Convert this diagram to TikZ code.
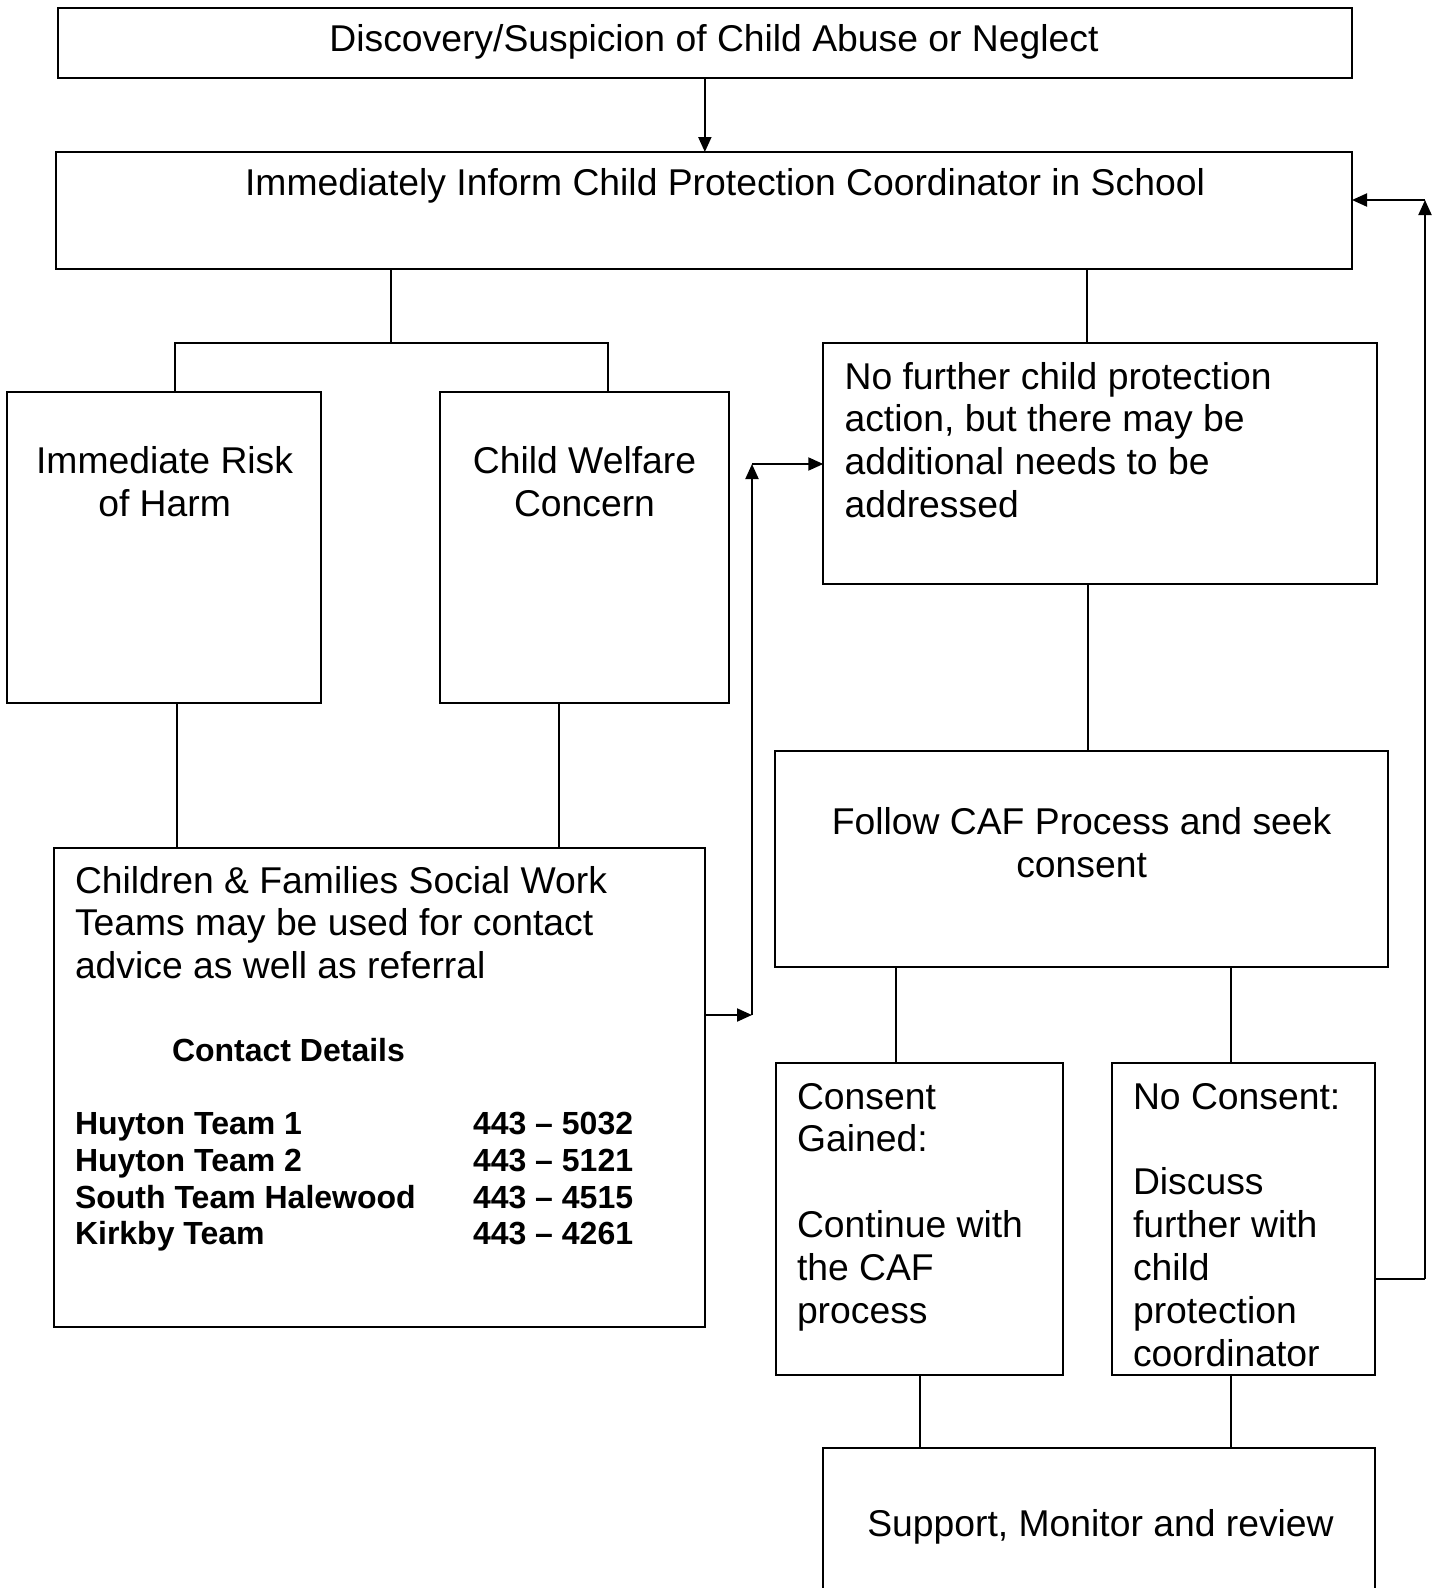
\documentclass[tikz,border=0pt]{standalone}
\usepackage{fontspec}
\setmainfont{Liberation Sans}
\usetikzlibrary{arrows.meta,calc}
\tikzset{
  box/.style={draw=black, line width=2pt, inner sep=0pt, outer sep=0pt, rectangle},
  conn/.style={draw=black, line width=2pt},
  arr/.style={conn, -{Triangle[length=15pt,width=13pt]}},
  txt/.style={inner sep=0pt, outer sep=0pt, font={\fontsize{37.3}{42.9}\selectfont}},
  btxt/.style={inner sep=0pt, outer sep=0pt, align=left, anchor=base west, font={\fontsize{32}{36.8}\selectfont\bfseries}}
}
\begin{document}
\begin{tikzpicture}[x=1pt,y=-1pt]
\path[use as bounding box, clip] (0,0) rectangle (1441,1588);
\fill[white] (0,0) rectangle (1441,1588);

% boxes
\node[box, minimum width=1294.3pt, minimum height=69.4pt] (b1) at (704.85,42.8) {};
\node[box, minimum width=1296.3pt, minimum height=117.4pt] (b2) at (703.85,210.7) {};
\node[box, minimum width=314pt, minimum height=311pt] (b3) at (164,547.5) {};
\node[box, minimum width=289.5pt, minimum height=311pt] (b4) at (584.25,547.5) {};
\node[box, minimum width=554pt, minimum height=241pt] (b5) at (1100.3,463.8) {};
\node[box, minimum width=613.7pt, minimum height=215.6pt] (b6) at (1081.55,859.2) {};
\node[box, minimum width=651.1pt, minimum height=479pt] (b7) at (379.25,1087.1) {};
\node[box, minimum width=287.6pt, minimum height=311.9pt] (b8) at (919.5,1219.25) {};
\node[box, minimum width=263.2pt, minimum height=311.9pt] (b9) at (1243.6,1219.25) {};
\node[box, minimum width=551.9pt, minimum height=160pt] (b10) at (1099.25,1528) {};

% texts (for multi-line nodes the base anchor is the last line's baseline)
\node[txt, anchor=base] (t1) at (714,51) {Discovery/Suspicion of Child Abuse or Neglect};
\node[txt, anchor=base] (t2) at (725,195.5) {Immediately Inform Child Protection Coordinator in School};
\node[txt, anchor=base, align=center] (t3) at (164.6,516.4) {Immediate Risk\\of Harm};
\node[txt, anchor=base, align=center] (t4) at (584.5,516.4) {Child Welfare\\Concern};
\node[txt, anchor=base west, align=left] (t5) at (844.6,517.7) {No further child protection\\action, but there may be\\additional needs to be\\addressed};
\node[txt, anchor=base, align=center] (t6) at (1081.6,877.4) {Follow CAF Process and seek\\consent};
\node[txt, anchor=base west, align=left] (t7) at (75,978.8) {Children \& Families Social Work\\Teams may be used for contact\\advice as well as referral};
\node[btxt] (t7a) at (172,1061) {Contact Details};
\node[btxt] (t7b) at (75,1244.9) {Huyton Team 1\\Huyton Team 2\\South Team Halewood\\Kirkby Team};
\node[btxt] (t7c) at (473,1244.9) {443 – 5032\\443 – 5121\\443 – 4515\\443 – 4261};
\node[txt, anchor=base west, align=left] (t8) at (797,1323.5) {Consent\\Gained:\\[42.9pt]Continue with\\the CAF\\process};
\begin{scope}
\clip (b9.north west) rectangle ($(b9.south east)+(0,-8)$);
\node[txt, anchor=base west, align=left] (t9) at (1133,1366.4) {No Consent:\\[42.9pt]Discuss\\further with\\child\\protection\\coordinator};
\end{scope}
\node[txt, anchor=base] (t10) at (1100.5,1536) {Support, Monitor and review};

% connectors
\draw[arr] (b1.south) -- (b1.south |- b2.north);

\coordinate (busC) at (391,343.3);
\coordinate (busL) at (175.2,343.3);
\coordinate (busR) at (608,343.3);
\draw[conn] (busC |- b2.south) -- (busC);
\draw[conn] (busL |- b3.north) -- (busL) -- (busR) -- (busR |- b4.north);

\coordinate (x5) at (1086.6,300);
\draw[conn] (x5 |- b2.south) -- (x5 |- b5.north);
\coordinate (x6) at (1087.6,700);
\draw[conn] (x6 |- b5.south) -- (x6 |- b6.north);

\coordinate (x3) at (177.2,800);
\coordinate (x4) at (559,800);
\draw[conn] (x3 |- b3.south) -- (x3 |- b7.north);
\draw[conn] (x4 |- b4.south) -- (x4 |- b7.north);

\coordinate (x8) at (896,1000);
\coordinate (x9) at (1231.4,1000);
\draw[conn] (x8 |- b6.south) -- (x8 |- b8.north);
\draw[conn] (x9 |- b6.south) -- (x9 |- b9.north);
\draw[conn] (b8.south) -- (b8.south |- b10.north);
\draw[conn] (x9 |- b9.south) -- (x9 |- b10.north);

\coordinate (L1) at (752,1015);
\coordinate (L2) at (752,464);
\draw[arr] (L1 -| b7.east) -- (L1);
\draw[arr] (L1) -- (L2);
\draw[arr] (L2) -- (L2 -| b5.west);

\coordinate (R1) at (1425,1279);
\coordinate (R2) at (1425,200);
\draw[conn] (R1 -| b9.east) -- (R1);
\draw[arr] (R1) -- (R2);
\draw[arr] (R2) -- (R2 -| b2.east);
\end{tikzpicture}
\end{document}
